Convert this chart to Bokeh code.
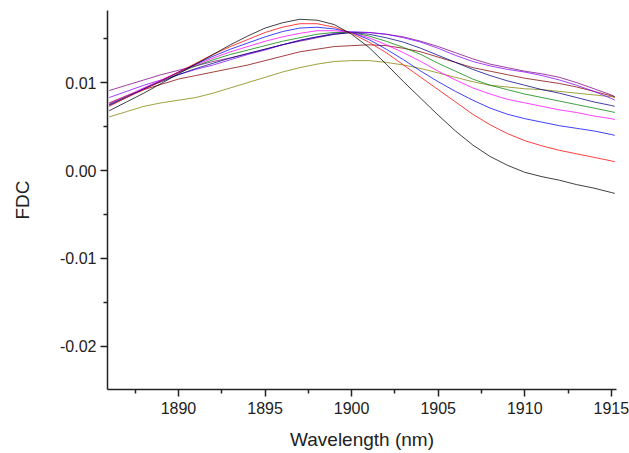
from bokeh.plotting import figure
from bokeh.models import Range1d, FixedTicker, NumeralTickFormatter
from bokeh.embed import file_html
from bokeh.resources import INLINE

wavelength = [1886, 1887, 1888, 1889, 1890, 1891, 1892, 1893, 1894, 1895,
              1896, 1897, 1898, 1899, 1900, 1901, 1902, 1903, 1904, 1905,
              1906, 1907, 1908, 1909, 1910, 1911, 1912, 1913, 1914, 1915, 1915.2]

fdc_black = [0.0068, 0.0078, 0.0088, 0.0099, 0.0110, 0.0121, 0.0132, 0.0143, 0.0153, 0.0162,
             0.0168, 0.0172, 0.0171, 0.0166, 0.0155, 0.0140, 0.0121, 0.0101, 0.0082, 0.0063,
             0.0045, 0.0029, 0.0016, 0.0006, -0.0002, -0.0007, -0.0011, -0.0016, -0.0020, -0.0025, -0.0026]
fdc_red = [0.0073, 0.0083, 0.0092, 0.0102, 0.0112, 0.0122, 0.0132, 0.0141, 0.0149, 0.0157,
           0.0163, 0.0167, 0.0167, 0.0163, 0.0156, 0.0146, 0.0134, 0.0120, 0.0106, 0.0092,
           0.0078, 0.0064, 0.0052, 0.0042, 0.0034, 0.0028, 0.0023, 0.0019, 0.0015, 0.0011, 0.0010]
fdc_blue = [0.0074, 0.0083, 0.0093, 0.0102, 0.0112, 0.0121, 0.0130, 0.0138, 0.0145, 0.0152,
            0.0158, 0.0162, 0.0163, 0.0161, 0.0157, 0.0149, 0.0138, 0.0126, 0.0113, 0.0101,
            0.0090, 0.0080, 0.0071, 0.0064, 0.0059, 0.0055, 0.0051, 0.0048, 0.0045, 0.0041, 0.0040]
fdc_magenta = [0.0076, 0.0085, 0.0094, 0.0103, 0.0112, 0.0120, 0.0128, 0.0135, 0.0141, 0.0147,
               0.0152, 0.0156, 0.0159, 0.0159, 0.0157, 0.0151, 0.0143, 0.0134, 0.0124, 0.0113,
               0.0103, 0.0094, 0.0087, 0.0081, 0.0077, 0.0073, 0.0069, 0.0066, 0.0062, 0.0059, 0.0058]
fdc_green = [0.0075, 0.0084, 0.0093, 0.0102, 0.0111, 0.0119, 0.0126, 0.0132, 0.0137, 0.0142,
             0.0147, 0.0151, 0.0155, 0.0157, 0.0157, 0.0153, 0.0147, 0.0140, 0.0132, 0.0122,
             0.0113, 0.0104, 0.0097, 0.0092, 0.0087, 0.0083, 0.0079, 0.0075, 0.0071, 0.0067, 0.0066]
fdc_navy = [0.0075, 0.0084, 0.0093, 0.0101, 0.0109, 0.0116, 0.0122, 0.0128, 0.0133, 0.0138,
            0.0143, 0.0148, 0.0152, 0.0155, 0.0157, 0.0155, 0.0151, 0.0146, 0.0139, 0.0131,
            0.0123, 0.0115, 0.0108, 0.0102, 0.0097, 0.0092, 0.0088, 0.0083, 0.0078, 0.0074, 0.0073]
fdc_violet = [0.0083, 0.0090, 0.0097, 0.0103, 0.0109, 0.0115, 0.0120, 0.0126, 0.0132, 0.0137,
              0.0143, 0.0148, 0.0152, 0.0156, 0.0158, 0.0157, 0.0155, 0.0151, 0.0146, 0.0139,
              0.0131, 0.0124, 0.0119, 0.0115, 0.0112, 0.0108, 0.0103, 0.0097, 0.0090, 0.0082, 0.0080]
fdc_purple = [0.0091, 0.0097, 0.0103, 0.0109, 0.0114, 0.0119, 0.0124, 0.0128, 0.0133, 0.0138,
              0.0143, 0.0147, 0.0151, 0.0155, 0.0157, 0.0157, 0.0155, 0.0152, 0.0147, 0.0141,
              0.0134, 0.0127, 0.0121, 0.0117, 0.0113, 0.0110, 0.0106, 0.0100, 0.0093, 0.0086, 0.0084]
fdc_wine = [0.0077, 0.0085, 0.0092, 0.0098, 0.0104, 0.0108, 0.0112, 0.0116, 0.0120, 0.0125,
            0.0130, 0.0135, 0.0138, 0.0141, 0.0142, 0.0143, 0.0142, 0.0139, 0.0135, 0.0129,
            0.0123, 0.0117, 0.0113, 0.0109, 0.0105, 0.0102, 0.0099, 0.0095, 0.0090, 0.0085, 0.0084]
fdc_olive = [0.0061, 0.0067, 0.0073, 0.0077, 0.0080, 0.0083, 0.0088, 0.0094, 0.0100, 0.0106,
             0.0112, 0.0117, 0.0121, 0.0124, 0.0125, 0.0125, 0.0123, 0.0120, 0.0116, 0.0111,
             0.0106, 0.0101, 0.0097, 0.0095, 0.0093, 0.0092, 0.0090, 0.0088, 0.0086, 0.0084, 0.0083]

series = [fdc_olive, fdc_wine, fdc_purple, fdc_violet, fdc_navy,
          fdc_green, fdc_magenta, fdc_blue, fdc_red, fdc_black]
colors = ["#808000", "#800000", "#800080", "#8000FF", "#000080",
          "#008000", "#FF00FF", "#0000FF", "#FF0000", "#000000"]

x_major = [1890, 1895, 1900, 1905, 1910, 1915]
x_minor = [1887.5, 1892.5, 1897.5, 1902.5, 1907.5, 1912.5]
y_major = [-0.02, -0.01, 0.0, 0.01]
y_minor = [-0.015, -0.005, 0.005, 0.015]

FONT = "Liberation Sans"

p = figure(output_backend="svg", toolbar_location=None,
           frame_width=509, frame_height=379,
           x_range=Range1d(1885.9, 1915.3), y_range=Range1d(-0.0249, 0.0182))
p.min_border_left = 107
p.min_border_right = 13
p.min_border_top = 10
p.min_border_bottom = 64
p.outline_line_color = None
p.xgrid.visible = False
p.ygrid.visible = False
p.background_fill_color = "white"
p.border_fill_color = "white"

for ys, c in zip(series, colors):
    p.line(wavelength, ys, line_color=c, line_width=1, line_alpha=0.75)

for ax in (p.xaxis[0], p.yaxis[0]):
    ax.axis_line_color = "#222222"
    ax.axis_line_width = 1.5
    ax.major_tick_line_color = "#222222"
    ax.minor_tick_line_color = "#222222"
    ax.major_tick_line_width = 1.5
    ax.minor_tick_line_width = 1.5
    ax.major_tick_out = 7
    ax.major_tick_in = 0
    ax.minor_tick_out = 4
    ax.minor_tick_in = 0
    ax.major_label_text_font = FONT
    ax.major_label_text_font_size = "16px"
    ax.major_label_text_color = "#222222"
    ax.axis_label_text_font = FONT
    ax.axis_label_text_font_size = "19px"
    ax.axis_label_text_font_style = "normal"
    ax.axis_label_text_color = "#222222"

p.xaxis[0].ticker = FixedTicker(ticks=x_major, minor_ticks=x_minor)
p.yaxis[0].ticker = FixedTicker(ticks=y_major, minor_ticks=y_minor)
p.yaxis[0].formatter = NumeralTickFormatter(format="0.00")
p.xaxis[0].axis_label = "Wavelength (nm)"
p.yaxis[0].axis_label = "FDC"
p.xaxis[0].major_label_standoff = 5
p.yaxis[0].major_label_standoff = 4
p.xaxis[0].axis_label_standoff = 12
p.yaxis[0].axis_label_standoff = 24

open("out.html", "w").write(file_html(p, INLINE))
